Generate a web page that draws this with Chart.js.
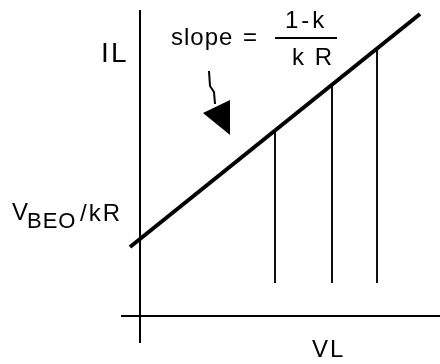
<!DOCTYPE html>
<html>
<head>
<meta charset="utf-8">
<script src="https://cdn.jsdelivr.net/npm/chart.js@4"></script>
<style>
  body { margin: 0; background: #fff; }
  canvas { display: block; }
</style>
</head>
<body>
<canvas id="loadLine" width="440" height="364"></canvas>
<script>
// load line I_L vs V_L (arbitrary units, origin where the axes cross)
const lineX = [-1.0, 28.0];
const lineY = [6.9, 30.2];

// vertical drops from the load line down towards the V_L axis
const dropX = [13.5, 19.2, 23.7];
const dropTop = [18.5, 23.1, 26.7];
const dropBase = 3.3;

// visible extent of the two axes
const xRange = [-1.9, 30];
const yRange = [-2.7, 30.6];

const INK = '#000';
const FONT = '"Liberation Sans", "DejaVu Sans", sans-serif';

const datasets = [{
  data: lineX.map((x, i) => ({ x, y: lineY[i] })),
  borderColor: INK,
  borderWidth: 4,
  showLine: true,
  pointRadius: 0
}];

dropX.forEach((x, i) => {
  datasets.push({
    data: [{ x, y: dropBase }, { x, y: dropTop[i] }],
    borderColor: '#111',
    borderWidth: 2,
    showLine: true,
    pointRadius: 0
  });
});

// only the zero line of each scale is drawn: those are the axes
const zeroOnly = scale => { scale.ticks = [{ value: 0 }]; };
const axisGrid = { color: INK, lineWidth: 2, drawTicks: false };

function text(ctx, str, x, y, size, spacing) {
  ctx.font = size + 'px ' + FONT;
  ctx.letterSpacing = (spacing || 0) + 'px';
  ctx.fillText(str, x, y);
}

const annotations = {
  id: 'annotations',
  afterDraw(chart) {
    const ctx = chart.ctx;
    ctx.save();
    ctx.fillStyle = INK;
    ctx.strokeStyle = INK;
    ctx.textBaseline = 'alphabetic';

    // axis titles
    text(ctx, 'I', 101, 62, 28);
    text(ctx, 'L', 111, 62, 28);
    text(ctx, 'V', 12, 220, 24);
    text(ctx, 'BEO', 27, 228, 22, 1);
    text(ctx, '/kR', 80, 221, 24, 2);
    text(ctx, 'VL', 312, 357, 24, 2);

    // slope formula
    text(ctx, 'slope', 171, 45, 24, 1);
    text(ctx, '=', 243, 45, 24);
    text(ctx, '1-k', 285, 28, 24, 3);
    text(ctx, 'k R', 292, 65, 24, 2);
    ctx.lineWidth = 2;
    ctx.beginPath();
    ctx.moveTo(275, 38);
    ctx.lineTo(337, 38);
    ctx.stroke();

    // arrow pointing at the load line
    ctx.beginPath();
    ctx.moveTo(209, 71);
    ctx.lineTo(210, 86);
    ctx.lineTo(214, 92);
    ctx.lineTo(215, 104);
    ctx.stroke();
    ctx.beginPath();
    ctx.moveTo(203, 113);
    ctx.lineTo(230, 100);
    ctx.lineTo(230, 135);
    ctx.closePath();
    ctx.fill();
    ctx.restore();
  }
};

new Chart(document.getElementById('loadLine'), {
  type: 'scatter',
  data: { datasets },
  options: {
    responsive: false,
    animation: false,
    layout: { padding: { left: 121, top: 10, right: 0, bottom: 21 } },
    plugins: { legend: { display: false }, tooltip: { enabled: false } },
    scales: {
      x: {
        type: 'linear',
        min: xRange[0],
        max: xRange[1],
        afterBuildTicks: zeroOnly,
        grid: axisGrid,
        border: { display: false },
        ticks: { display: false }
      },
      y: {
        type: 'linear',
        min: yRange[0],
        max: yRange[1],
        afterBuildTicks: zeroOnly,
        grid: axisGrid,
        border: { display: false },
        ticks: { display: false }
      }
    }
  },
  plugins: [annotations]
});
</script>
</body>
</html>
